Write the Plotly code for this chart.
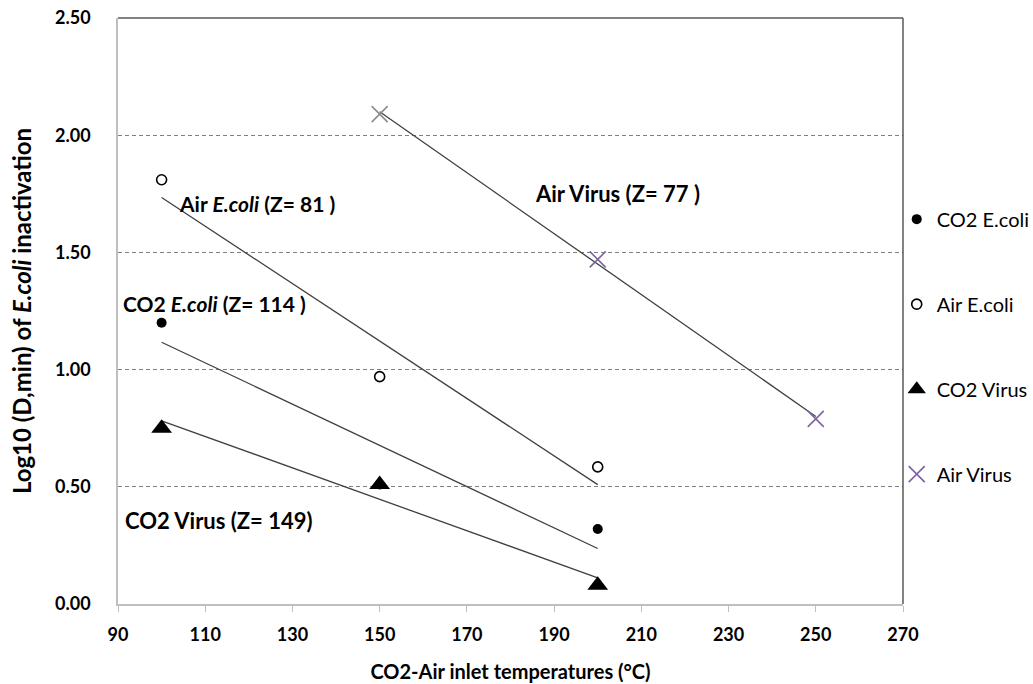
import numpy as np
import plotly.graph_objects as go

temps = [100, 150, 200]
co2_ecoli = [1.20, 0.51, 0.32]
air_ecoli = [1.81, 0.97, 0.585]
co2_virus = [0.75, 0.51, 0.08]
air_virus_t = [200, 250, 150]
air_virus = [1.47, 0.79, 2.09]
air_virus_colors = ["#8064a2", "#8064a2", "#8c8c8c"]

x_ticks = list(range(90, 271, 20))
y_ticks = [0, 0.5, 1.0, 1.5, 2.0, 2.5]

FONT = "Lato"
fig = go.Figure()

def trend(x, y):
    k, b = np.polyfit(x, y, 1)
    xs = np.array([min(x), max(x)])
    return xs, k * xs + b

for xs_, ys_ in [(temps, co2_ecoli), (temps, air_ecoli), (temps, co2_virus), (air_virus_t, air_virus)]:
    tx, ty = trend(xs_, ys_)
    fig.add_trace(go.Scatter(x=tx, y=ty, mode="lines", line=dict(color="#404040", width=1.3),
                             showlegend=False, hoverinfo="skip"))

fig.add_trace(go.Scatter(x=temps, y=co2_ecoli, mode="markers", name="CO2 E.coli", legendgroup="a",
                         marker=dict(symbol="circle", size=10, color="black")))
fig.add_trace(go.Scatter(x=temps, y=air_ecoli, mode="markers", name="Air E.coli", legendgroup="b",
                         marker=dict(symbol="circle-open", size=10, color="black", line=dict(width=1.6))))
fig.add_trace(go.Scatter(x=temps, y=co2_virus, mode="markers", name="CO2 Virus", legendgroup="c",
                         marker=dict(symbol="triangle-up", size=18, color="black")))
fig.add_trace(go.Scatter(x=air_virus_t, y=air_virus, mode="markers", name="Air Virus", legendgroup="d",
                         marker=dict(symbol="x-thin-open", size=16, color=air_virus_colors,
                                     line=dict(width=1.6, color=air_virus_colors))))

def ann(x, y, text, size):
    fig.add_annotation(x=x, y=y, text=text, showarrow=False, xanchor="left",
                       font=dict(family=FONT, size=size, color="black"))

ann(103.5, 1.71, "<b>Air <i>E.coli</i> (Z= 81 )</b>", 21)
ann(90.8, 1.28, "<b>CO2 <i>E.coli</i> (Z= 114 )</b>", 21)
ann(185.2, 1.75, "<b>Air Virus (Z= 77 )</b>", 22)
ann(91.1, 0.358, "<b>CO2 Virus (Z= 149)</b>", 22)

# top and right frame
fig.add_shape(type="line", xref="paper", yref="paper", x0=0, x1=1, y0=1, y1=1,
              line=dict(color="#595959", width=1.5))
fig.add_shape(type="line", xref="paper", yref="paper", x0=1, x1=1, y0=0, y1=1,
              line=dict(color="#595959", width=1.5))

fig.update_xaxes(range=[90, 270], tickvals=x_ticks, ticktext=[f"<b>{v}</b>" for v in x_ticks],
                 showgrid=False, zeroline=False, showline=True, linecolor="#bfbfbf", linewidth=1.5,
                 ticks="outside", ticklen=6, tickcolor="#bfbfbf", automargin=False,
                 ticklabelstandoff=8,
                 tickfont=dict(family=FONT, size=18, color="black"),
                 title=dict(text="<b>CO2-Air inlet temperatures (°C)</b>",
                            font=dict(family=FONT, size=20, color="black"), standoff=21))
fig.update_yaxes(range=[0, 2.5], tickvals=y_ticks, ticktext=[f"<b>{v:.2f}</b>" for v in y_ticks],
                 showgrid=True, gridcolor="#7f7f7f", griddash="4px,3px", gridwidth=1,
                 zeroline=False, showline=True, linecolor="#bfbfbf", linewidth=1.5,
                 ticks="", automargin=False, ticklabelstandoff=22,
                 tickfont=dict(family=FONT, size=18, color="black"),
                 title=dict(text="<b>Log10 (D,min) of <i>E.coli</i> inactivation</b>",
                            font=dict(family=FONT, size=24, color="black"), standoff=17))

fig.update_layout(width=1033, height=684,
                  margin=dict(l=118, r=130, t=18, b=80, autoexpand=False),
                  plot_bgcolor="white", paper_bgcolor="white",
                  legend=dict(x=0.992, y=0.69, xanchor="left", yanchor="top",
                              font=dict(family=FONT, size=20, color="black"),
                              tracegroupgap=56, itemwidth=30, bgcolor="rgba(0,0,0,0)"),
                  font=dict(family=FONT))
fig.write_html("out.html", config={"displayModeBar": False},
               post_script="document.body.style.margin='0px';")
